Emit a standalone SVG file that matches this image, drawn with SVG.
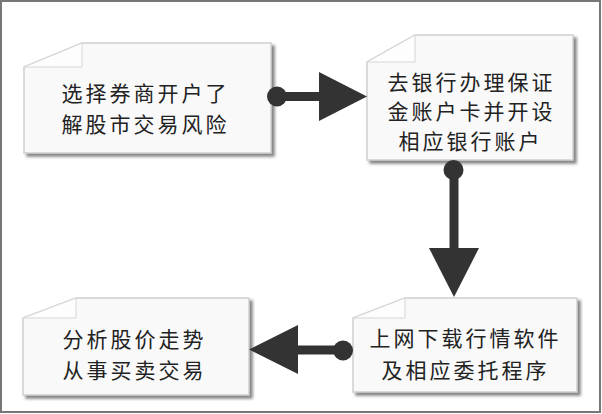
<svg xmlns="http://www.w3.org/2000/svg" width="602" height="414" viewBox="0 0 602 414">
  <defs>
    <filter id="sh" x="-10%" y="-10%" width="130%" height="130%">
      <feDropShadow dx="3" dy="3" stdDeviation="1.5" flood-color="#777" flood-opacity="0.9"/>
    </filter>
  </defs>
  <style>
    .box { fill: #f9f9f9; stroke: #cfcfcf; stroke-width: 1.5; filter: url(#sh); }
    .fold { fill: #fdfdfd; stroke: #d6d6d6; stroke-width: 1; }
    .t { font-family: "Noto Sans CJK SC", "Noto Sans", sans-serif; font-size: 21px; fill: #222; text-anchor: middle; letter-spacing: 3px; }
    .ln { stroke: #333; stroke-width: 9; fill: none; }
    .hd { fill: #333; }
  </style>
  <rect x="0" y="0" width="602" height="414" fill="#ffffff"/>
  <rect x="1" y="1" width="599" height="411" fill="none" stroke="#777" stroke-width="2"/>

  <g id="node1">
    <path class="box" d="M82,43 L271,43 L271,153 L24,153 L24,67 Z"/>
    <path class="fold" d="M82,43 L82,67 L24,67 Z"/>
    <text class="t" x="145.5" y="101">选择券商开户了</text>
    <text class="t" x="145.5" y="132">解股市交易风险</text>
  </g>

  <g id="node2">
    <path class="box" d="M415,35 L573,35 L573,160 L367,160 L367,62 Z"/>
    <path class="fold" d="M415,35 L415,62 L367,62 Z"/>
    <text class="t" x="471.5" y="90">去银行办理保证</text>
    <text class="t" x="471.5" y="119">金账户卡并开设</text>
    <text class="t" x="470.5" y="149">相应银行账户</text>
  </g>

  <g id="node3">
    <path class="box" d="M405,298 L577,298 L577,392 L353,392 L353,318 Z"/>
    <path class="fold" d="M405,298 L405,318 L353,318 Z"/>
    <text class="t" x="465.5" y="346">上网下载行情软件</text>
    <text class="t" x="465.5" y="378">及相应委托程序</text>
  </g>

  <g id="node4">
    <path class="box" d="M76,298 L249,298 L249,395 L23,395 L23,318 Z"/>
    <path class="fold" d="M76,298 L76,318 L23,318 Z"/>
    <text class="t" x="134.5" y="347">分析股价走势</text>
    <text class="t" x="134.5" y="378">从事买卖交易</text>
  </g>

  <g id="connectors">
    <line class="ln" x1="277" y1="96.5" x2="322" y2="96.5"/>
    <circle class="hd" cx="277" cy="96.5" r="10"/>
    <polygon class="hd" points="319,72 367,96.5 319,121"/>

    <line class="ln" x1="454" y1="170" x2="454" y2="252"/>
    <circle class="hd" cx="453.5" cy="170" r="10"/>
    <polygon class="hd" points="429,248 479,248 454,297"/>

    <line class="ln" x1="343" y1="350" x2="294" y2="350"/>
    <circle class="hd" cx="343" cy="350.5" r="10"/>
    <polygon class="hd" points="298,325 298,374 249,349.5"/>
  </g>
</svg>
